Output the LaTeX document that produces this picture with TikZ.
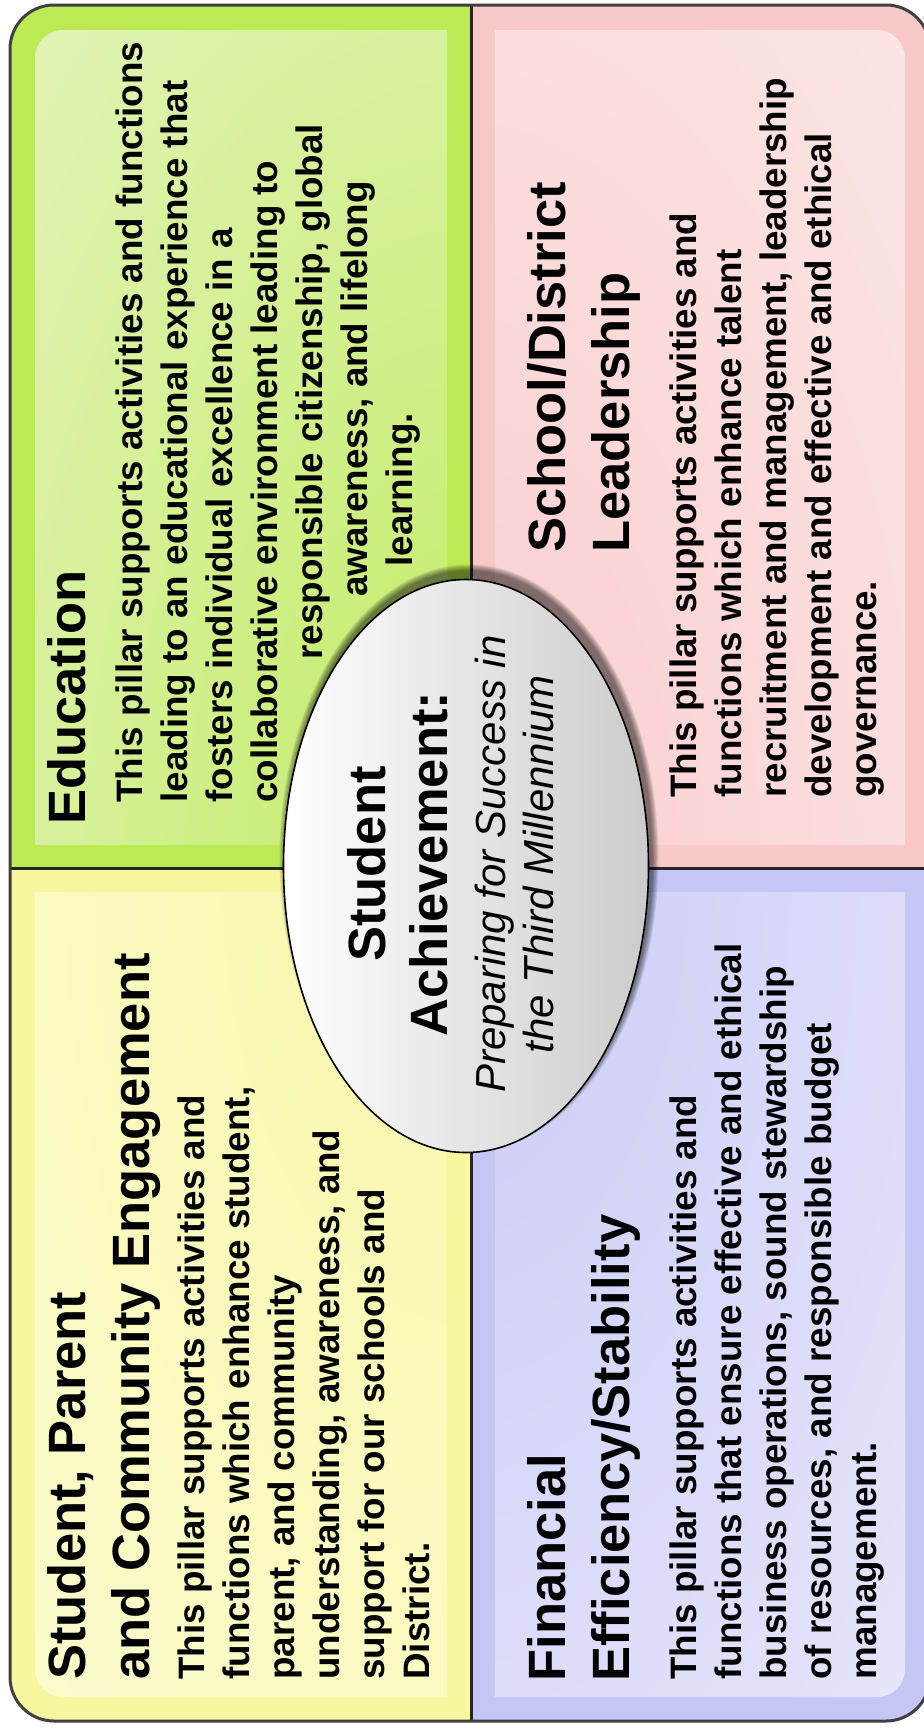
\documentclass[tikz,border=0pt]{standalone}
\usepackage{fontspec}
\setmainfont{Liberation Sans}
\usetikzlibrary{shapes.geometric,positioning}

\definecolor{edugreen}{RGB}{188,234,84}
\definecolor{edupale}{RGB}{240,247,220}
\definecolor{leadpink}{RGB}{249,200,200}
\definecolor{leadpale}{RGB}{254,240,240}
\definecolor{finblue}{RGB}{198,198,246}
\definecolor{finpale}{RGB}{240,240,253}
\definecolor{engyellow}{RGB}{247,247,160}
\definecolor{engpale}{RGB}{252,252,222}

\newcommand\pillarheadfont{\fontsize{26.25}{32}\selectfont\bfseries}
\newcommand\pillartextfont{\fontsize{18.4}{22.5}\selectfont\bfseries}
\newcommand\hubheadfont{\fontsize{26.25}{32}\selectfont\bfseries\upshape}
\newcommand\hubsubfont{\fontsize{21}{24}\selectfont\itshape}

\begin{document}
\begin{tikzpicture}[x=0.5pt, y=-0.5pt,
    pillarhead/.style={
      rotate=90,
      anchor=north west,
      inner sep=0pt,
      align=left,
      font=\pillarheadfont},
    pillartext/.style={
      rotate=90,
      anchor=north west,
      inner sep=0pt,
      align=left,
      font=\pillartextfont},
    hub/.style={
      ellipse,
      draw=black,
      line width=0.8pt,
      minimum width=182.5pt,
      minimum height=286.5pt,
      inner sep=0pt,
      left color=white,
      middle color=white,
      right color=black!20},
    hubtext/.style={
      rotate=90,
      anchor=north,
      inner sep=0pt,
      align=center,
      font=\hubsubfont},
    divider/.style={line width=1.5pt, draw=black!85},
    frameline/.style={line width=1.5pt, draw=black!75, rounded corners=22pt},
  ]
  \useasboundingbox (0,0) rectangle (924,1730);

  % the four pillars
  \begin{scope}
    \clip[rounded corners=22pt] (10,5) rectangle (930,1721);
    \foreach \xa/\ya/\xb/\yb/\base in {10/5/471/868/edugreen, 471/5/930/868/leadpink,
                                        471/868/930/1721/finblue, 10/868/471/1721/engyellow}
      \fill[\base] (\xa,\ya) rectangle (\xb,\yb);
    \clip[rounded corners=14pt] (35,30) rectangle (905,1697);
    \foreach \xa/\ya/\xb/\yb/\base/\soft in {35/30/447/844/edugreen/edupale,
                                             495/30/905/844/leadpink/leadpale,
                                             495/892/905/1697/finblue/finpale,
                                             35/892/447/1697/engyellow/engpale}
    {
      \begin{scope}
        \clip (\xa,\ya) rectangle (\xb,\yb);
        \shade[inner color=\base!90!white, outer color=\soft] (-454,-854) rectangle (1386,2586);
      \end{scope}
    }
  \end{scope}

  % dividers and frame
  \draw[divider] (471,5) -- (471,1721);
  \draw[divider] (10,868) -- (930,868);
  \draw[frameline] (10,5) rectangle (930,1721);

  % centre, with a soft shadow towards the top
  \foreach \k in {1,...,7}
    \fill[black, opacity=0.09] (469,858) ellipse [x radius={182.5+8-\k}, y radius={286.5+8-\k}];
  \node[hub] (hub) at (466,866) {};
  \node[hubtext] (hubtxt) at (347,864) {{\hubheadfont Student}\\[7pt]
    {\hubheadfont Achievement:}\\[5pt]
    Preparing for Success in\\
    the Third Millennium};

  % Education
  \node[pillarhead] (edutitle) at (47,825) {Education};
  \node[pillartext] (edutext) at (115,803) {This pillar supports activities and functions\\
    leading to an educational experience that\\
    fosters individual excellence in a\\
    collaborative environment leading to\\
    \hspace*{71.5pt}responsible citizenship, global\\
    \hspace*{103pt}awareness, and lifelong\\
    \hspace*{118pt}learning.};

  % School/District Leadership
  \node[pillarhead] (leadtitle) at (527,553) {School/District\\Leadership};
  \node[pillartext] (leadtext) at (669,798) {This pillar supports activities and\\
    functions which enhance talent\\
    recruitment and management, leadership\\
    development and effective and ethical\\
    governance.};

  % Financial Efficiency/Stability
  \node[pillarhead] (fintitle) at (527,1682) {Financial\\Efficiency/Stability};
  \node[pillartext] (fintext) at (669,1680) {This pillar supports activities and\\
    functions that ensure effective and ethical\\
    business operations, sound stewardship\\
    of resources, and responsible budget\\
    management.};

  % Student, Parent and Community Engagement
  \node[pillarhead] (engtitle) at (47,1680) {Student, Parent\\and Community Engagement};
  \node[pillartext] (engtext) at (177,1680) {This pillar supports activities and\\
    functions which enhance student,\\
    parent, and community\\
    understanding, awareness, and\\
    support for our schools and\\
    District.};
\end{tikzpicture}
\end{document}
